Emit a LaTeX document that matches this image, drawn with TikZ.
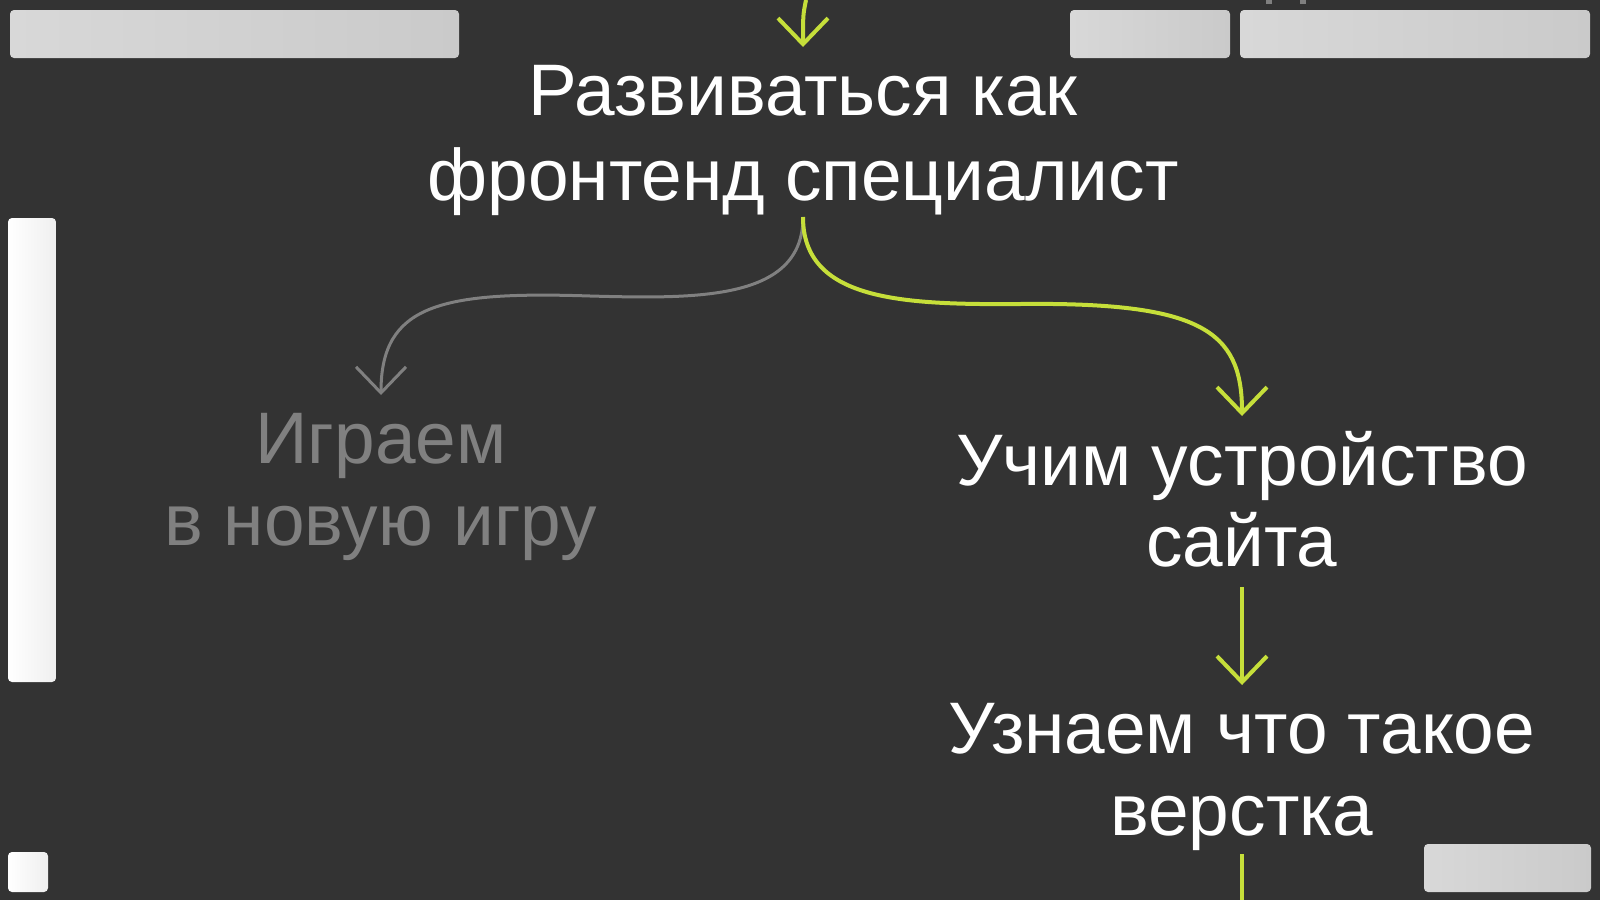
\documentclass[tikz,border=0pt]{standalone}
\usepackage{fontspec}
\setmainfont{Liberation Sans}
\usetikzlibrary{arrows.meta}
\definecolor{bg}{HTML}{333333}
\definecolor{lime}{HTML}{C6DF3A}
\definecolor{dim}{HTML}{808080}
\definecolor{barA}{HTML}{D8D8D8}
\definecolor{barB}{HTML}{CACACA}
\definecolor{whA}{HTML}{FFFFFF}
\definecolor{whB}{HTML}{EFEFEF}
\tikzset{
  lbl/.style={anchor=base, inner sep=0pt, font=\fontsize{73}{83}\selectfont, text=white},
  dimlbl/.style={lbl, text=dim},
  greybar/.style={rounded corners=4pt, left color=barA, right color=barB, draw=none},
  whitebar/.style={rounded corners=4pt, left color=whA, right color=whB, draw=none},
  flow/.style={draw=lime, line width=4pt, -{Straight Barb[length=26pt,width=50pt,line width=4pt]}},
  flowdim/.style={draw=dim, line width=3pt, -{Straight Barb[length=26pt,width=50pt,line width=3pt]}},
  plain/.style={draw=lime, line width=4pt}
}
\begin{document}
\begin{tikzpicture}[x=1pt,y=-1pt]
\fill[bg] (0,0) rectangle (1600,900);
\useasboundingbox (0,0) rectangle (1600,900);
% side panels
\shade[greybar] (10,10) rectangle (459,58);
\shade[greybar] (1070,10) rectangle (1230,58);
\shade[greybar] (1240,10) rectangle (1590,58);
\shade[greybar] (1424,844) rectangle (1591,892);
\shade[whitebar] (8,218) rectangle (56,682);
\shade[whitebar] (8,852) rectangle (48,892);
\fill[dim] (1266,0) rectangle (1272,4);
\fill[dim] (1300,0) rectangle (1306,4);
% texts
\node[lbl] (top1) at (803,115) {Развиваться как};
\node[lbl] (top2) at (803,200) {фронтенд специалист};
\node[dimlbl] (game1) at (381,463) {Играем};
\node[dimlbl] (game2) at (381,545) {в новую игру};
\node[lbl] (site1) at (1242,485) {Учим устройство};
\node[lbl] (site2) at (1242,566) {сайта};
\node[lbl] (lay1) at (1242,753) {Узнаем что такое};
\node[lbl] (lay2) at (1242,835) {верстка};
% connection points
\coordinate (topin) at (806,0);
\coordinate (topintip) at (803,47);
\coordinate (topout) at (803,217);
\coordinate (gamein) at (381,395);
\coordinate (sitein) at (1242,416);
\coordinate (siteout) at (1242,587);
\coordinate (layin) at (1242,685);
\coordinate (layout) at (1242,854);
\coordinate (bottom) at (1242,900);
% connectors
\draw[flow] (topin) .. controls (803,15) .. (topintip);
\draw[flowdim] (topout) .. controls (803,300) and (700,299) .. (590,296)
  .. controls (440,291) and (381,305) .. (gamein);
\draw[flow] (topout) .. controls (803,300) and (900,305) .. (1020,304)
  .. controls (1200,302) and (1242,330) .. (sitein);
\draw[flow] (siteout) -- (layin);
\draw[plain] (layout) -- (bottom);
\end{tikzpicture}
\end{document}
